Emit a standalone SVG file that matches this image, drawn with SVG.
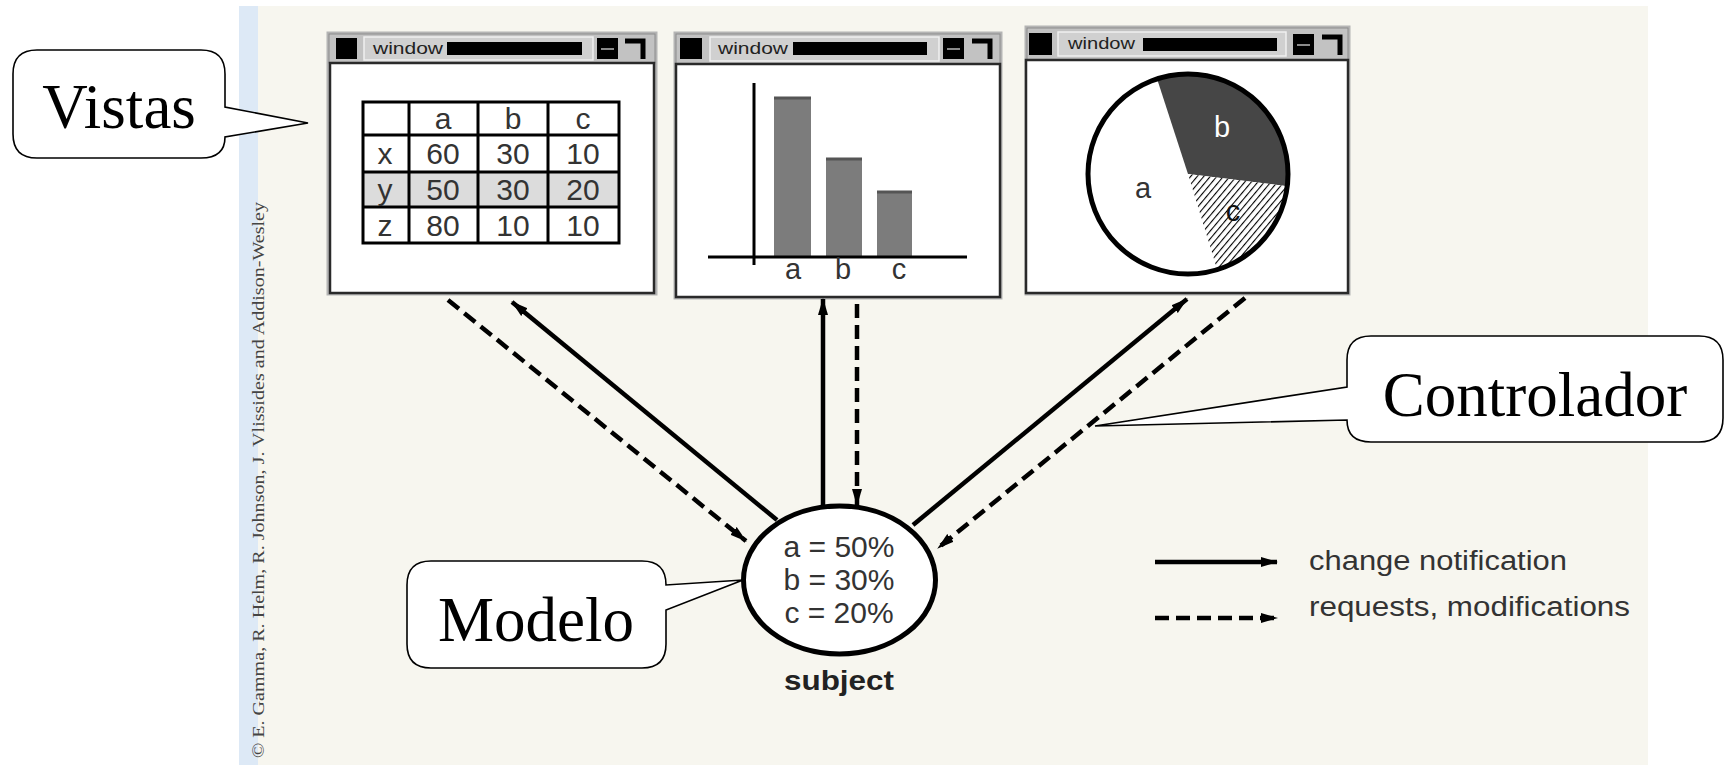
<svg xmlns="http://www.w3.org/2000/svg" width="1725" height="765" viewBox="0 0 1725 765">
<style>
.win-frame{fill:#ffffff;stroke:#b4b4b4;stroke-width:3}
.title{fill:#c2c2c2;stroke:#8c8c8c;stroke-width:1}
.tpanel{fill:#d0d0d0;stroke:#f0f0f0;stroke-width:1.5}
.blk{fill:#000}
.body{fill:#ffffff;stroke:#2a2a2a;stroke-width:2.5}
.wtext{font-family:"Liberation Sans",Arial,sans-serif;font-size:16px;fill:#222}
.cell{font-family:"Liberation Sans",Arial,sans-serif;font-size:30px;fill:#333;text-anchor:middle}
.grid{stroke:#000;stroke-width:3;fill:none}
.lbl{font-family:"Liberation Sans",Arial,sans-serif;font-size:29px;fill:#333;text-anchor:middle}
.callout{fill:#ffffff;stroke:#000;stroke-width:1.6}
.ctext{font-family:"Liberation Serif","Times New Roman",serif;font-size:63px;fill:#000;text-anchor:middle}
.conn{stroke:#000;stroke-width:4.5;fill:none}
.dash{stroke-dasharray:14 7}
.leg{font-family:"Liberation Sans",Arial,sans-serif;font-size:27px;fill:#333}
</style>
<defs>
<marker id="arr" markerUnits="userSpaceOnUse" markerWidth="17" markerHeight="12" viewBox="0 0 17 12" refX="16" refY="6" orient="auto">
<path d="M0,1 L17,6 L0,11 Z" fill="#000"/>
</marker>
<pattern id="hatch" patternUnits="userSpaceOnUse" width="5" height="5" patternTransform="rotate(40)">
<rect width="5" height="5" fill="#fff"/>
<line x1="0" y1="0" x2="0" y2="5" stroke="#000" stroke-width="2.2"/>
</pattern>
</defs>

<rect x="0" y="0" width="1725" height="765" fill="#ffffff"/>
<rect x="239" y="6" width="1409" height="759" fill="#f7f6ef"/>
<rect x="239" y="6" width="19" height="759" fill="#dde9f6"/>
<text font-family="'Liberation Serif','Times New Roman',serif" font-size="17" fill="#444" transform="translate(264,758) rotate(-90)" textLength="556" lengthAdjust="spacingAndGlyphs">© E. Gamma, R. Helm, R. Johnson, J. Vlissides and Addison-Wesley</text>

<g id="window-table">
<rect class="win-frame" x="328" y="33" width="328" height="261"/>
<rect class="title" x="329" y="34" width="326" height="29"/>
<rect class="blk" x="336" y="38" width="21" height="21"/>
<rect class="tpanel" x="364" y="37" width="229" height="23"/>
<text class="wtext" x="373" y="54" textLength="70" lengthAdjust="spacingAndGlyphs">window</text>
<rect class="blk" x="447" y="42" width="135" height="13"/>
<rect class="blk" x="597" y="38" width="21" height="21"/>
<line x1="601" y1="49" x2="614" y2="49" stroke="#8a8a8a" stroke-width="2"/>
<path d="M625,41 H643 V59" fill="none" stroke="#000" stroke-width="5"/>
<rect class="body" x="330" y="63" width="324" height="230"/>
<rect x="363" y="172" width="256" height="35" fill="#dcdcdc"/>
<rect class="grid" x="363" y="102" width="256" height="141"/>
<path class="grid" d="M409,102 V243 M478,102 V243 M548,102 V243 M363,135 H619 M363,172 H619 M363,207 H619"/>
<text class="cell" x="443" y="129">a</text>
<text class="cell" x="513" y="129">b</text>
<text class="cell" x="583" y="129">c</text>
<text class="cell" x="385" y="164">x</text>
<text class="cell" x="443" y="164">60</text>
<text class="cell" x="513" y="164">30</text>
<text class="cell" x="583" y="164">10</text>
<text class="cell" x="385" y="200">y</text>
<text class="cell" x="443" y="200">50</text>
<text class="cell" x="513" y="200">30</text>
<text class="cell" x="583" y="200">20</text>
<text class="cell" x="385" y="236">z</text>
<text class="cell" x="443" y="236">80</text>
<text class="cell" x="513" y="236">10</text>
<text class="cell" x="583" y="236">10</text>
</g>

<g id="window-bars">
<rect class="win-frame" x="675" y="33" width="326" height="265"/>
<rect class="title" x="676" y="34" width="324" height="30"/>
<rect class="blk" x="680" y="38" width="22" height="21"/>
<rect class="tpanel" x="710" y="37" width="229" height="24"/>
<text class="wtext" x="718" y="54" textLength="70" lengthAdjust="spacingAndGlyphs">window</text>
<rect class="blk" x="793" y="42" width="134" height="13"/>
<rect class="blk" x="943" y="38" width="21" height="21"/>
<line x1="947" y1="49" x2="960" y2="49" stroke="#8a8a8a" stroke-width="2"/>
<path d="M972,41 H990 V59" fill="none" stroke="#000" stroke-width="5"/>
<rect class="body" x="676" y="64" width="324" height="233"/>
<rect x="774" y="97" width="37" height="160" fill="#7c7c7c"/>
<rect x="826" y="158" width="36" height="99" fill="#7c7c7c"/>
<rect x="877" y="191" width="35" height="66" fill="#7c7c7c"/>
<path d="M774,98 H811 M826,159 H862 M877,192 H912" stroke="#555" stroke-width="3"/>
<line x1="754" y1="83" x2="754" y2="265" stroke="#000" stroke-width="3"/>
<line x1="708" y1="257" x2="967" y2="257" stroke="#000" stroke-width="3"/>
<text class="lbl" x="793" y="279">a</text>
<text class="lbl" x="843" y="279">b</text>
<text class="lbl" x="899" y="279">c</text>
</g>

<g id="window-pie">
<rect class="win-frame" x="1026" y="27" width="323" height="267"/>
<rect class="title" x="1027" y="28" width="321" height="32"/>
<rect class="blk" x="1029" y="33" width="23" height="22"/>
<rect class="tpanel" x="1058" y="32" width="228" height="24"/>
<text class="wtext" x="1068" y="49" textLength="67" lengthAdjust="spacingAndGlyphs">window</text>
<rect class="blk" x="1143" y="38" width="134" height="13"/>
<rect class="blk" x="1293" y="34" width="21" height="21"/>
<line x1="1297" y1="45" x2="1310" y2="45" stroke="#8a8a8a" stroke-width="2"/>
<path d="M1322,37 H1340 V55" fill="none" stroke="#000" stroke-width="5"/>
<rect class="body" x="1026" y="60" width="322" height="233"/>
<circle cx="1188" cy="174" r="100" fill="#fff"/>
<path d="M1188,174 L1157.1,78.9 A100,100 0 0 1 1287.3,186.2 Z" fill="#464646"/>
<path d="M1188,174 L1287.3,186.2 A100,100 0 0 1 1217.2,269.6 Z" fill="url(#hatch)"/>
<circle cx="1188" cy="174" r="100" fill="none" stroke="#000" stroke-width="5"/>
<text class="lbl" x="1143" y="198" font-size="28">a</text>
<text class="lbl" x="1222" y="137" font-size="28" fill="#fff" style="fill:#fff">b</text>
<text class="lbl" x="1233" y="221" font-size="28" style="fill:#111">c</text>
</g>

<g id="subject">
<ellipse cx="839.5" cy="580" rx="96" ry="74" fill="#fff" stroke="#000" stroke-width="5"/>
<text class="lbl" x="839" y="557" style="font-size:30px">a = 50%</text>
<text class="lbl" x="839" y="590" style="font-size:30px">b = 30%</text>
<text class="lbl" x="839" y="623" style="font-size:30px">c = 20%</text>
<text x="839" y="690" text-anchor="middle" font-family="'Liberation Sans',Arial,sans-serif" font-weight="bold" font-size="27" fill="#222" textLength="110" lengthAdjust="spacingAndGlyphs">subject</text>
</g>

<g id="connectors">
<line class="conn dash" x1="448" y1="300" x2="746" y2="541" marker-end="url(#arr)"/>
<line class="conn" x1="777" y1="520" x2="512" y2="302" marker-end="url(#arr)"/>
<line class="conn" x1="823" y1="507" x2="823" y2="299" marker-end="url(#arr)"/>
<line class="conn dash" x1="857" y1="304" x2="857" y2="505" marker-end="url(#arr)"/>
<line class="conn" x1="913" y1="525" x2="1187" y2="299" marker-end="url(#arr)"/>
<line class="conn dash" x1="1245" y1="298" x2="938" y2="548" marker-end="url(#arr)"/>
</g>

<g id="legend">
<line class="conn" x1="1155" y1="562" x2="1277" y2="562" marker-end="url(#arr)"/>
<line class="conn dash" x1="1155" y1="618" x2="1277" y2="618" marker-end="url(#arr)"/>
<text class="leg" x="1309" y="570" textLength="258" lengthAdjust="spacingAndGlyphs">change notification</text>
<text class="leg" x="1309" y="616" textLength="321" lengthAdjust="spacingAndGlyphs">requests, modifications</text>
</g>

<g id="callout-vistas">
<path class="callout" d="M37,50 H201 Q225,50 225,74 V107 L308,123 L225,137 Q225,158 201,158 H37 Q13,158 13,134 V74 Q13,50 37,50 Z"/>
<text class="ctext" x="119" y="128">Vistas</text>
</g>

<g id="callout-modelo">
<path class="callout" d="M431,561 H642 Q666,561 666,585 L743,580 L666,610 V644 Q666,668 642,668 H431 Q407,668 407,644 V585 Q407,561 431,561 Z"/>
<text class="ctext" x="536" y="641">Modelo</text>
</g>

<g id="callout-controlador">
<path class="callout" d="M1371,336 H1699 Q1723,336 1723,360 V418 Q1723,442 1699,442 H1371 Q1347,442 1347,420 L1095,426 L1347,387 V360 Q1347,336 1371,336 Z"/>
<text class="ctext" x="1535" y="416">Controlador</text>
</g>
</svg>
